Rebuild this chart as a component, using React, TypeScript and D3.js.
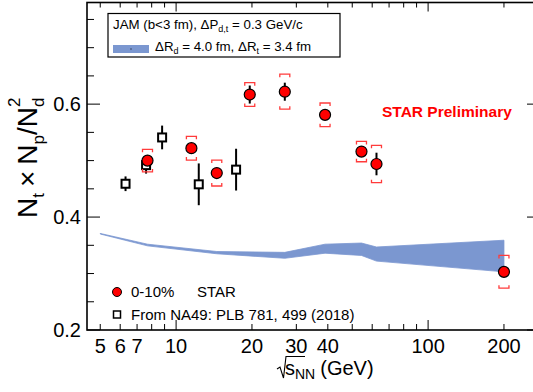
import React from "react";
import * as d3 from "d3";

// STAR 0-10% central, N_t x N_p / N_d^2
const starEnergy = [7.7, 11.5, 14.5, 19.6, 27, 39, 54.4, 62.4, 200];
const starValue = [0.5, 0.522, 0.478, 0.617, 0.622, 0.581, 0.516, 0.494, 0.303];
const starStat = [0.008, 0.006, 0.006, 0.016, 0.016, 0.009, 0.008, 0.02, 0.006];
const starSys = [0.02, 0.021, 0.023, 0.021, 0.031, 0.021, 0.018, 0.033, 0.029];

// NA49 (PLB 781, 499)
const na49Energy = [6.3, 7.6, 8.8, 12.3, 17.3];
const na49Value = [0.459, 0.492, 0.541, 0.458, 0.484];
const na49Err = [0.013, 0.015, 0.021, 0.037, 0.037];

// JAM band
const bandEnergy = [5, 7.7, 14.5, 27, 39, 54.4, 62.4, 200];
const bandHigh = [0.371, 0.352, 0.339, 0.3375, 0.352, 0.354, 0.347, 0.359];
const bandLow = [0.37, 0.349, 0.335, 0.327, 0.336, 0.332, 0.322, 0.303];

const xTickLabels = [5, 6, 7, 10, 20, 30, 40, 100, 200];
const xMinorTicks = [5, 6, 7, 8, 9, 20, 30, 40, 50, 60, 70, 80, 90, 200];
const xMajorTicks = [10, 100];
const yMajorTicks = [0.2, 0.4, 0.6];
const yMinorTicks = [0.25, 0.3, 0.35, 0.45, 0.5, 0.55, 0.65, 0.7, 0.75];

const W = 533;
const H = 392;
const font = "'Liberation Sans', Arial, sans-serif";

const App = () => {
  const left = 87;
  const right = 540;
  const top = 2.5;
  const bottom = 330;

  const x = d3.scaleLog().domain([4.43, 278]).range([left, right]);
  const y = d3.scaleLinear().domain([0.2, 0.78]).range([bottom, top]);

  const band = d3
    .area<number>()
    .x((_, i) => x(bandEnergy[i]))
    .y0((_, i) => y(bandLow[i]))
    .y1((d) => y(d));

  const red = "#ff0000";
  const sysColor = "#ff3b3b";

  return (
    <svg
      width={W}
      height={H}
      style={{ position: "absolute", left: 0, top: 0, background: "#fff" }}
      fontFamily={font}
    >
      {/* band */}
      <path d={band(bandHigh) || ""} fill="#7b97d0" stroke="#7b97d0" strokeWidth={0.8} />

      {/* frame */}
      <rect x={left} y={top} width={right - left} height={bottom - top} fill="none" stroke="#000" strokeWidth={1.6} />

      {/* x ticks */}
      {xMinorTicks.map((t) => (
        <g key={"xm" + t}>
          <line x1={x(t)} x2={x(t)} y1={bottom} y2={bottom - 6} stroke="#000" strokeWidth={1} />
          <line x1={x(t)} x2={x(t)} y1={top} y2={top + 5} stroke="#000" strokeWidth={1} />
        </g>
      ))}
      {xMajorTicks.map((t) => (
        <g key={"xM" + t}>
          <line x1={x(t)} x2={x(t)} y1={bottom} y2={bottom - 10} stroke="#000" strokeWidth={1} />
          <line x1={x(t)} x2={x(t)} y1={top} y2={top + 9} stroke="#000" strokeWidth={1} />
        </g>
      ))}
      {xTickLabels.map((t) => (
        <text key={"xl" + t} x={x(t)} y={353} fontSize={20} textAnchor="middle">
          {t}
        </text>
      ))}

      {/* y ticks */}
      {yMinorTicks.map((t) => (
        <g key={"ym" + t}>
          <line x1={left} x2={left + 7} y1={y(t)} y2={y(t)} stroke="#000" strokeWidth={1} />
          <line x1={right} x2={right - 7} y1={y(t)} y2={y(t)} stroke="#000" strokeWidth={1} />
        </g>
      ))}
      {yMajorTicks.map((t) => (
        <g key={"yM" + t}>
          <line x1={left} x2={left + 13} y1={y(t)} y2={y(t)} stroke="#000" strokeWidth={1} />
          <line x1={right} x2={right - 13} y1={y(t)} y2={y(t)} stroke="#000" strokeWidth={1} />
          <text x={81} y={y(t) + 7} fontSize={20} textAnchor="end">
            {t.toFixed(1)}
          </text>
        </g>
      ))}

      {/* axis titles */}
      <text x={285} y={375} fontSize={20}>
        <tspan>s</tspan>
        <tspan fontSize={14} dy={4}>NN</tspan>
        <tspan dy={-4} dx={5}>(GeV)</tspan>
      </text>
      <path d="M277,369 L280,367 L283.5,378 L286,356.5 L305,356.5" fill="none" stroke="#000" strokeWidth={1.1} />

      <text transform="translate(37,218) rotate(-90)" fontSize={28}>
        <tspan>N</tspan>
        <tspan fontSize={17} dy={7}>t</tspan>
        <tspan dy={-7} dx={6}>×</tspan>
        <tspan dx={6}>N</tspan>
        <tspan fontSize={17} dy={7}>p</tspan>
        <tspan dy={-7}>/N</tspan>
        <tspan fontSize={17} dy={7}>d</tspan>
        <tspan fontSize={17} dx={-9.5} dy={-24}>2</tspan>
      </text>

      {/* NA49 */}
      {na49Energy.map((e, i) => (
        <g key={"na" + e}>
          <line
            x1={x(e)}
            x2={x(e)}
            y1={y(na49Value[i] - na49Err[i])}
            y2={y(na49Value[i] + na49Err[i])}
            stroke="#000"
            strokeWidth={2}
          />
          <rect x={x(e) - 4} y={y(na49Value[i]) - 4} width={8} height={8} fill="#fff" stroke="#000" strokeWidth={2} />
        </g>
      ))}

      {/* STAR */}
      {starEnergy.map((e, i) => {
        const cx = x(e);
        const yt = y(starValue[i] + starSys[i]);
        const yb = y(starValue[i] - starSys[i]);
        const hw = 5;
        return (
          <g key={"st" + e}>
            <path
              d={`M${cx - hw},${yt + 3}V${yt}H${cx + hw}V${yt + 3}M${cx - hw},${yb - 3}V${yb}H${cx + hw}V${yb - 3}`}
              fill="none"
              stroke={sysColor}
              strokeWidth={1.3}
            />
            <line
              x1={cx}
              x2={cx}
              y1={y(starValue[i] - starStat[i])}
              y2={y(starValue[i] + starStat[i])}
              stroke="#000"
              strokeWidth={2}
            />
            <circle cx={cx} cy={y(starValue[i])} r={5.5} fill={red} stroke="#000" strokeWidth={1.2} />
          </g>
        );
      })}

      <text x={382} y={117} fontSize={15.5} fontWeight="bold" fill={red}>
        STAR Preliminary
      </text>

      {/* top legend */}
      <rect x={108} y={13.5} width={232} height={43.5} fill="#fff" stroke="#000" strokeWidth={1.2} />
      <text x={113} y={29} fontSize={13.3}>
        <tspan>JAM (b&lt;3 fm), ΔP</tspan>
        <tspan fontSize={9} dy={3}>d,t</tspan>
        <tspan dy={-3}> = 0.3 GeV/c</tspan>
      </text>
      <rect x={113} y={45} width={36} height={8} fill="#7b97d0" />
      <rect x={130.5} y={48.5} width={1} height={1} fill="#000" />
      <text x={155} y={51} fontSize={13.3}>
        <tspan>ΔR</tspan>
        <tspan fontSize={9} dy={3}>d</tspan>
        <tspan dy={-3}> = 4.0 fm, ΔR</tspan>
        <tspan fontSize={9} dy={3}>t</tspan>
        <tspan dy={-3}> = 3.4 fm</tspan>
      </text>

      {/* bottom legend */}
      <circle cx={117} cy={292} r={4.5} fill={red} stroke="#000" strokeWidth={1} />
      <text x={131} y={297} fontSize={15}>0-10%</text>
      <text x={197} y={297} fontSize={15}>STAR</text>
      <rect x={113.5} y={311} width={7} height={7} fill="#fff" stroke="#000" strokeWidth={1.5} />
      <text x={131} y={320} fontSize={15}>From NA49: PLB 781, 499 (2018)</text>
    </svg>
  );
};

export default App;
